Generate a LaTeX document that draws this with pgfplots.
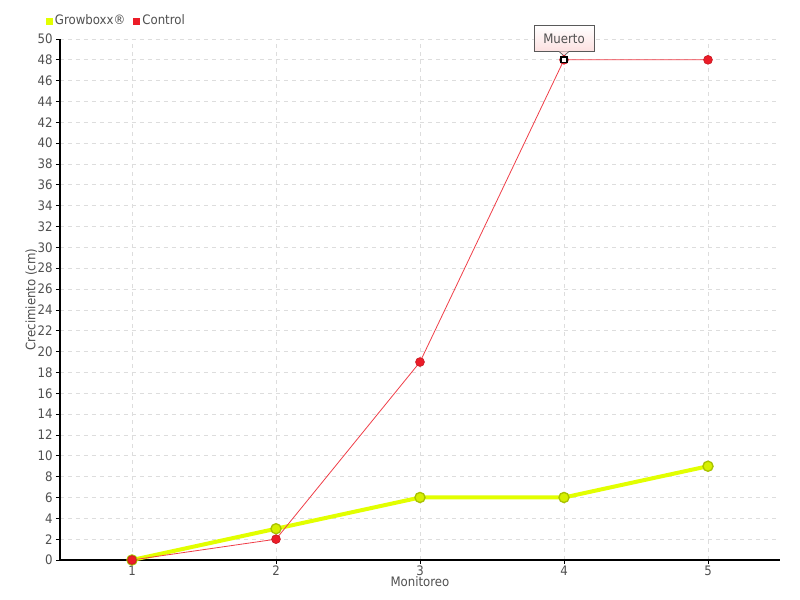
\documentclass[border=0pt]{standalone}
\usepackage{pgfplots}
\pgfplotsset{compat=1.18}
\usepackage{fontspec}
\setmainfont{DejaVu Sans Condensed}
\definecolor{gbx}{HTML}{E2FF00}
\definecolor{gbxfill}{HTML}{D6F000}
\definecolor{gbxedge}{HTML}{A9C200}
\definecolor{ctl}{HTML}{EC1C28}
\definecolor{lbl}{HTML}{505050}
\definecolor{gridc}{HTML}{DDDDDD}
\definecolor{boxbot}{HTML}{FCE0E0}
\begin{document}
\begin{tikzpicture}[x=0.75pt,y=0.75pt]
\path (-60,-40) rectangle (740,560);
\begin{axis}[
  at={(0,0)}, anchor=south west,
  scale only axis, width=540pt, height=390.75pt,
  xmin=0.5, xmax=5.5, ymin=0, ymax=50,
  xtick={1,2,3,4,5}, ytick={0,2,...,50},
  axis x line*=bottom, axis y line*=left,
  axis line style={black, line width=0.8pt, -},
  tick align=outside, major tick length=3pt,
  tick style={black, line width=0.6pt},
  grid=major, grid style={gridc, dashed, dash pattern=on 3pt off 3pt, line width=0.6pt},
  tick label style={font=\fontsize{9.8}{11}\selectfont, text=lbl},
  /pgf/number format/assume math mode=true,
  xticklabel style={yshift=2pt},
  yticklabel style={xshift=1pt},
  label style={font=\fontsize{9.8}{11}\selectfont, text=lbl},
  xlabel={Monitoreo},
  xlabel style={at={(axis description cs:0.5,-0.042)}, anchor=center},
  ylabel={Crecimiento (cm)},
  ylabel style={at={(axis description cs:-0.04,0.5)}, anchor=center},
  legend style={at={(axis description cs:-0.02,1.0345)}, anchor=west,
    draw=none, fill=none, legend columns=2,
    font=\fontsize{9.8}{11}\selectfont, text=lbl,
    /tikz/every even column/.append style={column sep=4pt},
    inner sep=0pt},
  legend image code/.code={\fill (0pt,-2.2pt) rectangle (4.4pt,2.2pt);},
  clip=false,
]
\addlegendimage{gbx, fill=gbx}
\addlegendentry{Growboxx®}
\addlegendimage{ctl, fill=ctl}
\addlegendentry{Control}
\addplot[forget plot, gbx, line width=3pt, mark=*, mark size=3.8pt,
  mark options={fill=gbxfill, draw=gbxedge, line width=1pt}]
  coordinates {(1,0)(2,3)(3,6)(4,6)(5,9)};
\addplot[forget plot, ctl!85!white, line width=0.6pt, mark=*, mark size=3.3pt,
  mark options={fill=ctl, draw=ctl!85!black, line width=0.5pt}]
  coordinates {(1,0)(2,2)(3,19)(4,48)(5,48)};
\addplot[forget plot, only marks, mark=square*, mark size=2.2pt,
  mark options={fill=white, draw=black, line width=1pt}]
  coordinates {(4,48)};
\node[draw=gray!70!black, line width=0.5pt,
  top color=white, bottom color=boxbot,
  minimum width=45pt, minimum height=19.5pt, inner sep=2pt,
  font=\fontsize{9.8}{11}\selectfont, text=lbl, anchor=south]
  (m) at ([yshift=6pt]axis cs:4,48) {Muerto};
\fill[boxbot] ([xshift=-3.5pt,yshift=0.3pt]m.south) -- ([yshift=3pt]axis cs:4,48) -- ([xshift=3.5pt,yshift=0.3pt]m.south) -- cycle;
\draw[gray!70!black, line width=0.5pt] ([xshift=-3.5pt]m.south) -- ([yshift=3pt]axis cs:4,48) -- ([xshift=3.5pt]m.south);
\end{axis}
\end{tikzpicture}
\end{document}
